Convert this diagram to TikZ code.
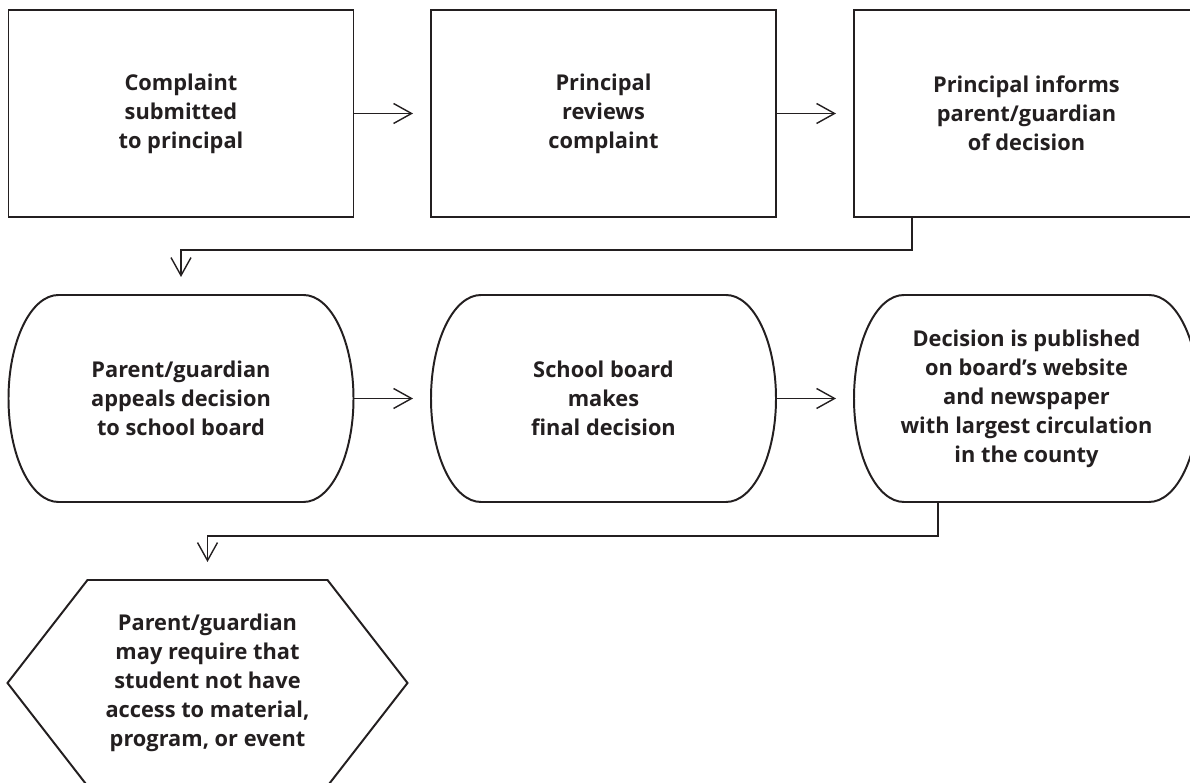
\documentclass[tikz,border=0pt]{standalone}
\usepackage{fontspec}
\setmainfont{Open Sans}
\usetikzlibrary{arrows.meta}
\definecolor{ink}{HTML}{231F20}

\begin{document}
\begin{tikzpicture}[
            stepbox/.style={rectangle, draw=ink, line width=1.4pt, outer sep=0pt, minimum width=8.625cm, minimum height=5.175cm, align=center, text=ink, font=\fontsize{15.5}{20.6}\selectfont\bfseries},
            roundbox/.style={rectangle, outer sep=0pt, minimum width=8.625cm, minimum height=5.175cm, align=center, text=ink, font=\fontsize{15.5}{20.6}\selectfont\bfseries},
            hexbox/.style={rectangle, outer sep=0pt, minimum width=10cm, minimum height=5.15cm, align=center, text=ink, font=\fontsize{15.5}{20.6}\selectfont\bfseries},
            outline/.style={draw=ink, line width=1.4pt},
            link/.style={draw=ink, line width=1pt, -{Straight Barb[length=4.5mm, width=5mm]}, shorten >=4.5mm},
        ]
            \useasboundingbox (0,0) rectangle (29.75,19.575);
            \clip (0,0) rectangle (29.75,19.575);

            % first row
            \node[stepbox](submit) at (4.525,16.7375) {Complaint\\submitted\\to principal};
            \node[stepbox](review) at (15.0875,16.7375) {Principal\\reviews\\complaint};
            \node[stepbox](inform) at (25.6625,16.7375) {Principal informs\\parent/guardian\\of decision};

            % second row
            \node[roundbox](appeal) at (4.525,9.6125) {Parent/guardian\\appeals decision\\to school board};
            \node[roundbox](final) at (15.0875,9.6125) {School board\\makes\\final decision};
            \node[roundbox](publish) at (25.6625,9.6125) {Decision is published\\on board’s website\\and newspaper\\with largest circulation\\in the county};
            \foreach \n in {appeal, final, publish}
                \draw[outline] ([xshift=1.25cm]\n.north west) -- ([xshift=-1.25cm]\n.north east)
                    arc[start angle=90, end angle=-90, x radius=1.25cm, y radius=2.5875cm]
                    -- ([xshift=1.25cm]\n.south west)
                    arc[start angle=270, end angle=90, x radius=1.25cm, y radius=2.5875cm] -- cycle;

            % last step
            \node[hexbox](restrict) at (5.1875,2.5) {Parent/guardian\\may require that\\student not have\\access to material,\\program, or event};
            \draw[outline] ([xshift=2cm]restrict.north west) -- ([xshift=-2cm]restrict.north east) -- (restrict.east)
                -- ([xshift=-2cm]restrict.south east) -- ([xshift=2cm]restrict.south west) -- (restrict.west) -- cycle;

            % connectors
            \draw[link] (submit) -- (review);
            \draw[link] (review) -- (inform);
            \draw[link] ([xshift=1.45cm]inform.south west) -- ++(0,-0.825) -| (appeal.north);
            \draw[link] (appeal) -- (final);
            \draw[link] (final) -- (publish);
            \draw[link] ([xshift=2.1cm]publish.south west) -- ++(0,-0.85) -| (restrict.north);
        \end{tikzpicture}
\end{document}
